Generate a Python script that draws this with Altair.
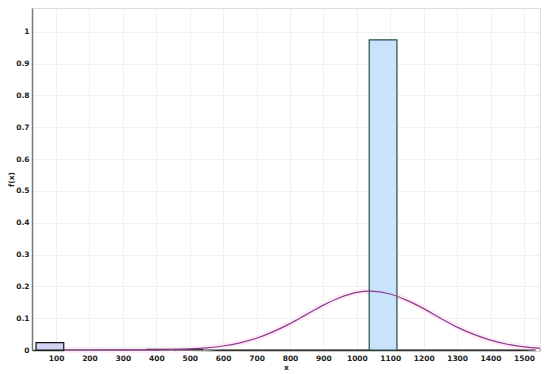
import altair as alt
import pandas as pd

# Histogram bins (start, end, height)
bin_start = [40, 123, 206, 289, 372, 455, 538, 621, 704, 787, 870, 953, 1037, 1120, 1203, 1286, 1369, 1452]
bin_end = [123, 206, 289, 372, 455, 538, 621, 704, 787, 870, 953, 1037, 1120, 1203, 1286, 1369, 1452, 1535]
bin_height = [0.023, 0, 0, 0, 0.002, 0.002, 0, 0, 0, 0, 0, 0, 0.975, 0, 0, 0, 0, 0]
bin_group = ["low", "other", "other", "other", "other", "other", "other", "other", "other",
             "other", "other", "other", "high", "other", "other", "other", "other", "other"]

# Fitted curve
curve_x = [125, 200, 300, 400, 450, 500, 550, 600, 650, 700, 750, 800, 850, 900, 950, 1000,
           1040, 1100, 1150, 1200, 1250, 1300, 1350, 1400, 1450, 1500, 1548]
curve_y = [0.0, 0.0, 0.0001, 0.0006, 0.0015, 0.0033, 0.0066, 0.0126, 0.0225, 0.037, 0.0577,
           0.083, 0.112, 0.141, 0.165, 0.181, 0.185, 0.176, 0.156, 0.130, 0.100, 0.072, 0.049,
           0.031, 0.018, 0.0098, 0.005]

x_ticks = [100, 200, 300, 400, 500, 600, 700, 800, 900, 1000, 1100, 1200, 1300, 1400, 1500]
y_ticks = [0, 0.1, 0.2, 0.3, 0.4, 0.5, 0.6, 0.7, 0.8, 0.9, 1]

bars = pd.DataFrame({"start": bin_start, "end": bin_end, "h": bin_height, "g": bin_group})
curve = pd.DataFrame({"x": curve_x, "y": curve_y})

FONT = "DejaVu Sans"
xscale = alt.Scale(domain=[28, 1548], nice=False, zero=False)
yscale = alt.Scale(domain=[0, 1.075], nice=False)

xaxis = alt.Axis(values=x_ticks, format="d", title="x", labelFont=FONT, labelFontSize=7.5,
                 labelFontWeight="bold", labelOverlap=False, labelFlush=False,
                 titleFont=FONT, titleFontSize=7.5, titleFontWeight="bold", ticks=False,
                 labelPadding=4, titlePadding=2, grid=True, gridColor="#f0f0f0",
                 domainColor="#333333", domainWidth=1.5, labelColor="#222222", titleColor="#222222")
yaxis = alt.Axis(values=y_ticks, format="~g", title="f(x)", labelFont=FONT, labelFontSize=7.5,
                 labelFontWeight="bold", labelOverlap=False, labelFlush=False,
                 titleFont=FONT, titleFontSize=7.5, titleFontWeight="bold", ticks=False,
                 labelPadding=3, titleX=-17, titleY=171, titleAngle=270, titleAlign="center",
                 titleBaseline="bottom", grid=True, gridColor="#f0f0f0",
                 domainColor="#777777", domainWidth=1.5, labelColor="#222222", titleColor="#222222")

halo = alt.Chart(curve).mark_line(color="#fcedf8", strokeWidth=6, interpolate="monotone").encode(
    x=alt.X("x:Q", scale=xscale, axis=xaxis), y=alt.Y("y:Q", scale=yscale, axis=yaxis))

bar_layer = alt.Chart(bars).mark_bar(strokeWidth=1.2).encode(
    x=alt.X("start:Q", scale=xscale, axis=xaxis),
    x2="end:Q",
    y=alt.Y("h:Q", scale=yscale, axis=yaxis),
    y2=alt.datum(0),
    fill=alt.Fill("g:N", scale=alt.Scale(domain=["low", "other", "high"],
                                         range=["#d3d3f5", "#d3d3f5", "#c8e4fb"]), legend=None),
    stroke=alt.Stroke("g:N", scale=alt.Scale(domain=["low", "other", "high"],
                                             range=["#111111", "#333333", "#2a4848"]), legend=None),
)

line = alt.Chart(curve).mark_line(color="#8e3a8a", strokeWidth=1.2, interpolate="monotone").encode(
    x=alt.X("x:Q", scale=xscale, axis=xaxis), y=alt.Y("y:Q", scale=yscale, axis=yaxis))

chart = alt.layer(halo, bar_layer, line).properties(
    width=508, height=342,
    autosize=alt.AutoSizeParams(type="none"),
    padding={"left": 24, "top": 0, "right": 2, "bottom": 24},
).configure_view(stroke="#999999", strokeWidth=2).configure(background="white")

chart.save("out.html", embed_options={"renderer": "svg", "actions": False})
